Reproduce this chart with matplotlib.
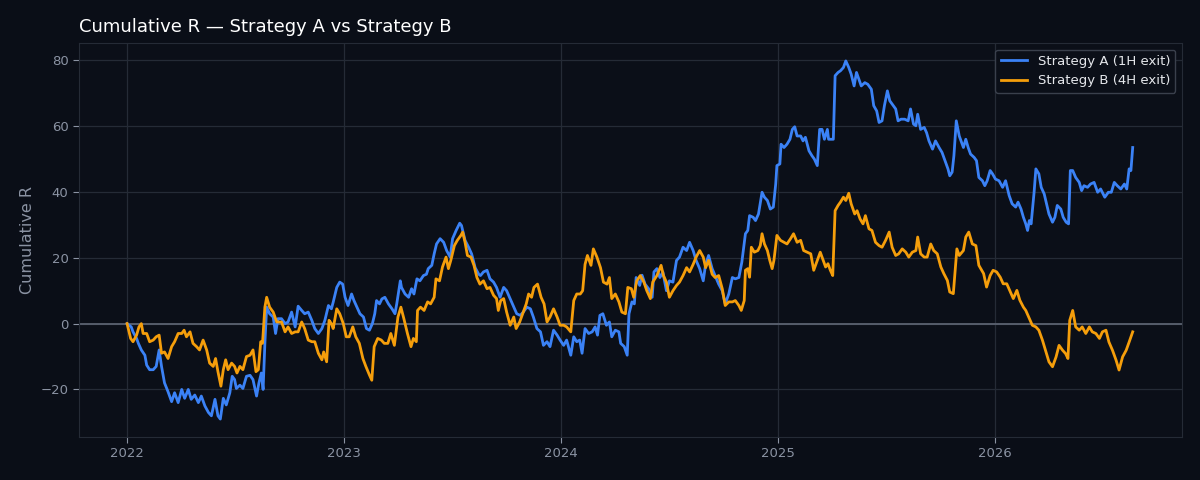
import matplotlib
matplotlib.use("Agg")
import matplotlib.pyplot as plt
import matplotlib.dates as mdates
import pandas as pd

start = pd.Timestamp("2022-01-01")

a_days = [0,7,10,16,19,24,30,33,38,44,49,54,58,63,69,75,80,86,92,97,
          103,108,114,120,125,131,137,142,148,153,157,162,167,173,177,181,184,190,195,201,
          207,212,218,222,226,229,232,235,240,246,250,254,260,266,271,277,283,288,294,299,
          305,311,316,322,328,333,339,344,347,353,358,363,367,372,378,382,387,392,398,403,
          408,413,417,420,425,429,434,440,446,451,454,460,462,468,474,479,483,488,493,499,
          504,507,513,517,521,527,533,538,544,548,554,560,563,569,575,580,586,592,595,600,
          606,611,617,622,628,634,639,645,651,656,662,667,673,679,684,690,696,701,707,712,
          718,724,729,735,740,747,752,757,762,766,771,777,783,788,792,796,801,807,812,816,
          822,828,831,837,842,845,850,854,857,863,867,872,878,884,887,892,897,902,908,913,
          919,925,930,936,942,947,953,958,964,970,974,979,985,990,996,1002,1007,1013,1019,1024,
          1030,1035,1041,1045,1048,1054,1058,1063,1069,1073,1078,1083,1088,1092,1094,1099,1101,1106,1111,1116,
          1120,1124,1128,1134,1138,1142,1148,1153,1157,1162,1166,1170,1174,1179,1181,1189,1192,1197,1201,1206,
          1210,1215,1219,1224,1228,1232,1236,1242,1247,1253,1257,1262,1266,1271,1275,1280,1284,1288,1294,1298,
          1303,1309,1315,1319,1324,1328,1331,1336,1342,1346,1350,1356,1361,1367,1372,1378,1382,1385,1389,1392,
          1396,1401,1408,1412,1416,1420,1426,1430,1434,1440,1444,1448,1453,1457,1462,1468,1474,1479,1485,1490,
          1496,1500,1505,1509,1513,1516,1519,1522,1527,1530,1535,1539,1544,1548,1552,1558,1562,1566,1572,1576,
          1581,1585,1588,1592,1597,1603,1607,1611,1617,1622,1628,1634,1639,1646,1652,1657,1662,1667,1673,1679,
          1683,1687,1690,1693]
a_r = [0,-1,-2.5,-4.5,-6,-8,-9.6,-12.6,-14,-14,-13,-8,-13,-18,-20.7,-23.7,-21,-24,-20,-22.7,
       -20,-23,-21.7,-24,-22,-25,-27,-28,-23,-28,-29,-22.7,-24.7,-21,-16,-17,-19.7,-18.7,-19.7,-16,
       -15.7,-17,-22,-18,-15,-20,-6,5,3,2,-3,1.5,1.5,0,0.5,3.5,-1,5.3,4,3,
       3.5,1,-1.5,-3,-1.5,1,5.5,4.5,6.5,11,12.6,12,8,5.5,9,7,5,3,2,-1.5,
       -2,0,3,7,6,7.5,8,6,4.5,3,6,13,11,9,8,10.6,9,13.6,13,14.6,
       15,16.7,17.7,21.2,24.2,25.8,24.7,22.2,20.2,25.8,28.3,30.5,29.8,25.3,23.2,21.2,17,15,14.6,15.7,
       16.2,13.6,12.6,11,8,11,10,7.5,5,3,2.5,3.5,5,4.5,2,-1.5,-2.5,-6.6,-5.5,-7,
       -2,-3.5,-5,-6.6,-5,-9.6,-4,-5.5,-5,-9,-1.5,-3,-2.5,-1,-3.5,2.5,3,-0.5,0.5,-4,
       -2,-2.5,-6,-7,-9.6,3,6.6,6,14,11.6,14.7,12,10.6,8,15.7,16.7,14,15.7,10,13,
       12.6,19.2,20.2,23.2,22.2,24.7,22.2,19.2,16.7,13,18,20.7,16.7,14.6,12,10,6,9,14,13.6,
       14,18.7,27.3,28.3,32.8,32.3,31.3,33.3,39.9,38.4,37.4,34.8,35.4,42.4,48,48.5,54.5,53.5,54.5,56,
       59,59.8,57,57,55.5,56.6,52.5,51,50,48,59,59,56,59,56,56,75.3,76.3,76.8,77.8,
       79.8,77.8,75.8,72.2,76.3,74.2,72.2,73.2,72.7,71.2,66.2,64.6,61.1,61.6,66.2,70.7,67.7,66.7,65.2,61.6,
       62.1,62.1,61.6,65.2,60.6,60.1,63.6,59,59.6,58,55.5,53,55.5,53.5,52,49,47,44.9,46,51,
       61.6,57,53.5,56,53.5,51.5,50.5,49.5,44.4,43.4,41.9,43.4,46.5,45.5,43.9,43.4,41.4,43.4,38.9,36.4,
       35.4,36.9,34.8,32.3,30.3,28.3,31.3,30.3,39.9,47,45.5,41.4,39.4,36.4,33.3,30.8,32.3,35.9,34.8,32.3,
       30.8,30.3,46.5,46.5,44.4,42.9,40.4,41.9,41.4,42.4,42.9,39.9,40.9,38.4,39.9,39.9,42.9,41.9,40.9,42.4,
       40.9,47,46.5,53.5]

b_days = [0,6,10,16,20,24,27,33,38,44,49,54,58,63,69,75,80,86,92,96,
          100,106,111,117,122,128,134,139,145,149,153,158,162,166,170,176,181,185,190,195,
          201,207,212,217,221,225,228,232,235,240,246,252,260,266,271,277,283,288,294,299,
          305,311,316,322,328,331,336,340,344,347,353,358,364,369,374,380,385,391,397,402,
          408,412,416,422,428,433,439,444,450,456,461,466,472,478,482,487,489,494,500,506,
          511,517,520,526,531,537,541,545,551,556,562,565,569,573,579,584,589,594,600,606,
          611,617,622,625,629,634,639,645,651,655,661,666,672,676,681,685,691,697,702,707,
          712,718,724,729,735,740,747,752,757,763,767,771,775,781,785,791,797,802,808,812,
          816,822,828,833,839,843,849,853,858,864,870,875,881,885,892,899,903,908,913,919,
          925,930,936,942,947,953,958,964,970,974,979,985,990,996,1002,1007,1013,1019,1024,1030,
          1034,1039,1041,1045,1048,1051,1056,1062,1066,1069,1073,1078,1082,1086,1089,1094,1100,1106,1111,1117,
          1122,1128,1134,1139,1145,1151,1156,1162,1167,1172,1176,1180,1184,1188,1192,1197,1201,1206,1210,1215,
          1219,1225,1229,1234,1239,1243,1249,1254,1260,1266,1271,1277,1283,1288,1294,1299,1305,1311,1316,1322,
          1328,1331,1336,1342,1347,1353,1358,1364,1370,1375,1381,1385,1391,1397,1401,1408,1412,1417,1423,1429,
          1434,1442,1447,1453,1458,1464,1470,1475,1481,1487,1492,1498,1503,1509,1513,1519,1524,1530,1535,1541,
          1547,1552,1558,1564,1569,1575,1580,1584,1587,1592,1597,1603,1608,1614,1620,1625,1631,1637,1642,1648,
          1653,1659,1665,1670,1676,1682,1687,1693]
b_r = [0,-4.5,-5.5,-3.5,-1,0,-3,-3,-5.5,-5,-4,-3.5,-9,-8.6,-10.6,-7,-5.5,-3,-3,-2,
       -4,-2.5,-6,-7,-8,-5,-8,-12,-13,-10.6,-14.6,-19,-14,-11,-14,-12,-13,-15,-13,-14,
       -10,-9.6,-8,-14.6,-14,-5.5,-6,5,8,5,3.5,0.5,0.5,-2.5,-1,-3,-2.5,-2.5,0.5,-1.5,
       -5,-5.5,-5.5,-9,-11,-8.6,-11.6,1,0,-1.5,4.5,3,0,-4,-4,-1,-4,-6,-10.6,-13,
       -15.6,-17.2,-7,-4.5,-5,-6,-6,-3,-6.6,2,5,1.5,-3,-7,-4.5,-5.5,4,5,4,6.6,
       6,8,13.6,13,17.2,20.2,16.7,19.2,23.7,25.3,26.8,27.8,24.7,20.7,20.2,17.7,14,12,13,10.6,
       11,8.6,7.6,4,7,7.6,3.5,-0.5,2,-1.5,0.5,3,6,9,8,11,12,8,6,0.5,
       2,4.5,2,-0.5,-0.5,-1,-2.5,7,9,9,10,18,20.7,17.7,22.7,20.2,17,12.6,12,14,
       7.6,9,6.6,3.5,3,11,10.6,8,13,14.6,12.6,10,7.6,12.6,14.6,17.7,14.6,12.6,8,10,
       11.6,12.6,14.6,17,15.7,18,20.2,22.2,20.2,17,19.2,15,14,14.6,10.6,5.5,6.6,6.6,7,5.5,
       4,7,16.2,16.7,14.1,23.2,21.7,22.2,23.7,27.3,24.2,22.2,19.2,16.7,19.2,26.8,25.3,24.7,24.2,25.8,
       27.3,24.7,25.3,22.2,21.7,21.2,16.2,19.2,21.7,19.2,17.2,18.2,16.2,14.6,34.3,35.9,36.9,38.4,37.4,39.6,
       36.4,33.3,34.3,31.8,30.3,32.8,28.8,28.3,24.7,23.7,23.2,25.3,27.8,23.2,20.7,21.2,22.7,21.7,20.2,21.7,
       22.2,26.3,21.2,20.2,20.2,24.2,22.2,21.2,17.2,15.2,13.1,9.6,9.1,22.7,20.7,22.2,26.3,27.8,24.2,23.7,
       17.7,15.2,11.1,14.6,16.2,15.7,14.1,12.1,12.1,9.6,7.6,10.1,7.1,5,4,1.5,-0.5,-1,-2,-5,
       -8.6,-11.6,-13.1,-10.1,-6.6,-8.1,-9.1,-10.6,1,4,-1,-2,-1,-3,-1,-2.5,-3,-4.5,-2.5,-2,
       -5.6,-8.1,-11.1,-14.1,-10.1,-8.1,-5.6,-2.5]

labels = ["Strategy A (1H exit)", "Strategy B (4H exit)"]
title = "Cumulative R \u2014 Strategy A vs Strategy B"
ylabel = "Cumulative R"

a_dates = start + pd.to_timedelta(a_days, unit="D")
b_dates = start + pd.to_timedelta(b_days, unit="D")

fig_bg = "#0a0e17"
ax_bg = "#0b0f18"
grid_c = "#252b36"
tick_c = "#8b93a3"

fig = plt.figure(figsize=(12, 4.8), dpi=100, facecolor=fig_bg)
ax = fig.add_axes([0.0658, 0.0896, 0.9192, 0.8208])
ax.set_facecolor(ax_bg)

ax.plot(a_dates, a_r, color="#3b82f6", lw=2.0, label=labels[0], zorder=3)
ax.plot(b_dates, b_r, color="#f59e0b", lw=2.0, label=labels[1], zorder=3)
ax.axhline(0, color="#5b6270", lw=1.3, zorder=2)

ax.xaxis.set_major_locator(mdates.YearLocator())
ax.xaxis.set_major_formatter(mdates.DateFormatter("%Y"))
ax.set_xlim(start - pd.Timedelta(days=81), start + pd.Timedelta(days=1776))
ax.grid(True, color=grid_c, lw=0.9, zorder=0)
ax.set_axisbelow(True)
for s in ax.spines.values():
    s.set_color(grid_c)
ax.tick_params(colors=tick_c, labelsize=9.5, length=4, color=tick_c)
ax.set_ylabel(ylabel, color=tick_c, fontsize=11.5)
ax.set_title(title, loc="left", color="white", fontsize=13, pad=8)

leg = ax.legend(loc="upper right", fontsize=9.5, facecolor=ax_bg, edgecolor="#3a404c",
                framealpha=1.0, labelcolor="#e5e7eb")

fig.savefig("out.png", dpi=100, facecolor=fig_bg)
